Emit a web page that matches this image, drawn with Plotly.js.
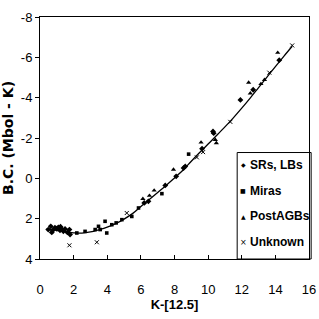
<!DOCTYPE html>
<html>
<head>
<meta charset="utf-8">
<script src="https://cdn.plot.ly/plotly-3.0.1.min.js"></script>
<style>
html,body{margin:0;padding:0;background:#fff;}
#chart{width:319px;height:319px;}
</style>
</head>
<body>
<div id="chart"></div>
<script>
// SRs, LBs (diamonds)
var srX = [0.49, 0.64, 0.76, 0.89, 1.00, 1.09, 1.19, 1.29, 1.39, 1.49, 1.63, 1.75, 1.79, 0.70, 1.22, 6.20, 6.45, 7.45, 8.10, 8.54, 8.64, 9.64, 10.29, 10.33, 11.92, 12.68, 14.23];
var srY = [2.54, 2.38, 2.58, 2.45, 2.50, 2.43, 2.58, 2.51, 2.63, 2.51, 2.68, 2.54, 2.79, 2.68, 2.40, 1.22, 1.14, 0.35, -0.10, -0.51, -0.59, -1.47, -2.32, -2.24, -3.89, -4.39, -5.86];
// Miras (squares)
var miraX = [2.19, 2.68, 3.28, 3.48, 3.58, 3.87, 3.97, 4.27, 4.53, 4.87, 5.46, 5.86, 7.25, 8.84];
var miraY = [2.71, 2.63, 2.54, 2.38, 2.54, 2.13, 2.71, 2.30, 2.21, 2.05, 1.89, 1.47, 0.76, -1.20];
// PostAGBs (triangles)
var pagbX = [6.12, 6.51, 6.79, 7.94, 9.58, 10.43, 10.49, 12.41, 12.51, 13.14, 13.35, 14.14];
var pagbY = [1.02, 0.86, 0.60, -0.43, -1.78, -1.91, -1.75, -4.75, -4.22, -4.68, -4.88, -6.23];
// Unknown (crosses)
var unkX = [1.75, 3.38, 5.16, 9.33, 9.70, 11.32, 13.64, 15.00];
var unkY = [3.32, 3.17, 1.72, -1.04, -1.30, -2.80, -5.24, -6.59];
// Fitted trend line
var fitX = [0.4, 1.0, 1.5, 2.0, 2.5, 3.0, 3.5, 4.0, 4.5, 5.0, 5.5, 6.0, 6.5, 7.0, 7.5, 8.0, 8.5, 9.0, 9.5, 10.0, 10.5, 11.0, 11.5, 12.0, 12.5, 13.0, 13.5, 14.0, 14.5, 15.0];
var fitY = [2.50, 2.58, 2.65, 2.70, 2.72, 2.66, 2.55, 2.42, 2.25, 2.02, 1.75, 1.40, 1.05, 0.70, 0.35, -0.02, -0.40, -0.85, -1.28, -1.70, -2.12, -2.55, -3.00, -3.48, -3.98, -4.50, -5.02, -5.54, -6.05, -6.55];

var seriesNames = ['SRs, LBs', 'Miras', 'PostAGBs', 'Unknown'];
var legendGlyphs = ['\u25C6', '\u25A0', '\u25B2', '\u00D7'];
var xTicks = [0, 2, 4, 6, 8, 10, 12, 14, 16];
var yTicks = [-8, -6, -4, -2, 0, 2, 4];

var narrow = '"Liberation Sans Narrow", "Arial Narrow", "Liberation Sans", Arial, sans-serif';

var traces = [
  {x: fitX, y: fitY, mode: 'lines', line: {color: '#000', width: 1.3, shape: 'spline'}, hoverinfo: 'skip', showlegend: false},
  {x: srX, y: srY, mode: 'markers', name: seriesNames[0], marker: {symbol: 'diamond', size: 4.5, color: '#000'}},
  {x: miraX, y: miraY, mode: 'markers', name: seriesNames[1], marker: {symbol: 'square', size: 3.6, color: '#000'}},
  {x: pagbX, y: pagbY, mode: 'markers', name: seriesNames[2], marker: {symbol: 'triangle-up', size: 4.6, color: '#000'}},
  {x: unkX, y: unkY, mode: 'markers', name: seriesNames[3], marker: {symbol: 'x-thin', size: 4, color: '#000', line: {color: '#000', width: 1}}}
];

// custom legend (box + entries)
var legTop = 0.44, legStep = 0.107;
var annotations = [];
for (var i = 0; i < seriesNames.length; i++) {
  var yy = legTop - 0.05 - i * legStep;
  annotations.push({xref: 'paper', yref: 'paper', x: 0.755, y: yy, xanchor: 'center', yanchor: 'middle', showarrow: false,
    text: legendGlyphs[i], font: {family: 'DejaVu Sans', size: i === 3 ? 8 : 6, color: '#000'}});
  annotations.push({xref: 'paper', yref: 'paper', x: 0.772, y: yy, xanchor: 'left', yanchor: 'middle', showarrow: false,
    text: '<b>' + seriesNames[i] + '</b>', font: {family: narrow, size: 12, color: '#000'}});
}

var layout = {
  width: 319, height: 319,
  margin: {l: 40, r: 10, t: 17, b: 60},
  paper_bgcolor: '#fff', plot_bgcolor: '#fff',
  showlegend: false,
  xaxis: {
    range: [0, 16], tickvals: xTicks, ticktext: xTicks.map(String),
    showgrid: false, zeroline: false, showline: true, mirror: true, linecolor: '#000', linewidth: 1,
    ticks: 'inside', ticklen: 4, tickcolor: '#000',
    ticklabelstandoff: 18,
    tickfont: {family: narrow, size: 13, color: '#000'},
    title: {text: '<b>K-[12.5]</b>', font: {family: narrow, size: 13, color: '#000'}, standoff: 1}
  },
  yaxis: {
    range: [4, -8], tickvals: yTicks, ticktext: yTicks.map(String),
    showgrid: false, zeroline: false, showline: true, mirror: true, linecolor: '#000', linewidth: 1,
    ticks: 'outside', ticklen: 4, tickcolor: '#000',
    tickfont: {family: narrow, size: 13, color: '#000'},
    title: {text: '<b>B.C. (Mbol - K)</b>', font: {family: 'DejaVu Sans', size: 14, color: '#000'}, standoff: 4}
  },
  shapes: [
    {type: 'rect', xref: 'paper', yref: 'paper', x0: 0.733, x1: 1.008, y0: 0, y1: legTop, line: {color: '#000', width: 1}, fillcolor: '#fff', layer: 'below'}
  ],
  annotations: annotations
};

Plotly.newPlot('chart', traces, layout, {displayModeBar: false, staticPlot: true});
</script>
</body>
</html>
